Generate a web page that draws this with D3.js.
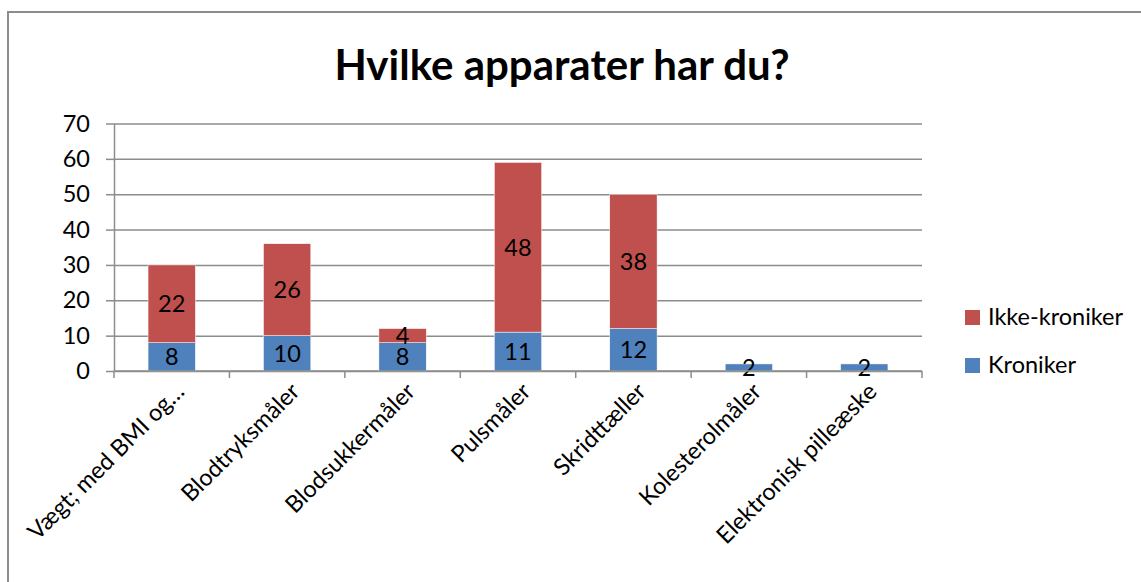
<!DOCTYPE html>
<html>
<head>
<meta charset="utf-8">
<script src="https://cdn.jsdelivr.net/npm/d3@7"></script>
<style>
  body { margin: 0; background: #fff; }
  svg { font-family: Lato, "Open Sans", sans-serif; }
</style>
</head>
<body>
<svg id="chart" width="1141" height="582"></svg>
<script>
'use strict';

// data
var categories = ["Vægt; med BMI og…", "Blodtryksmåler", "Blodsukkermåler", "Pulsmåler",
                  "Skridttæller", "Kolesterolmåler", "Elektronisk pilleæske"];
var kroniker = [8, 10, 8, 11, 12, 2, 2];
var ikkeKroniker = [22, 26, 4, 48, 38, 0, 0];
var seriesNames = ["Kroniker", "Ikke-kroniker"];
var yTicks = [0, 10, 20, 30, 40, 50, 60, 70];

var colors = {
    Kroniker: "#4F81BD",
    "Ikke-kroniker": "#C0504D",
    grid: "#8c8c8c"
};

var svg = d3.select("#chart");
var margin = {left: 114, right: 219, top: 123.5, bottom: 211};
var width = 1141 - margin.left - margin.right;
var height = 582 - margin.top - margin.bottom;
var fontSize = "23.5px";

// frame of the chart area (left + top only are visible)
svg.append("path")
   .attr("d", "M8,582 V12 H1141")
   .attr("fill", "none")
   .attr("stroke", colors.grid)
   .attr("stroke-width", 2);

svg.append("text")
   .attr("x", 562)
   .attr("y", 80)
   .attr("text-anchor", "middle")
   .style("font-size", "42px")
   .style("font-weight", "bold")
   .text("Hvilke apparater har du?");

var g = svg.append("g")
           .attr("transform", "translate(" + margin.left + "," + margin.top + ")");

var x = d3.scaleBand()
          .domain(categories)
          .range([0, width])
          .paddingInner(0.59)
          .paddingOuter(0.295);

var y = d3.scaleLinear()
          .domain([0, 70])
          .range([height, 0]);

// gridlines
g.append("g")
 .attr("class", "grid")
 .call(d3.axisRight(y).tickValues(yTicks).tickSize(width).tickFormat(""))
 .call(function(s) { s.select(".domain").remove(); })
 .selectAll("line")
 .attr("stroke", colors.grid)
 .attr("stroke-width", 1.5);

// y axis
var yAxis = g.append("g")
             .call(d3.axisLeft(y).tickValues(yTicks).tickSize(8).tickPadding(16).tickSizeOuter(0));
yAxis.select(".domain").attr("stroke", colors.grid).attr("stroke-width", 1.5);
yAxis.selectAll("line").attr("stroke", colors.grid).attr("stroke-width", 1.5);
yAxis.selectAll("text")
     .style("font-size", fontSize)
     .style("font-family", "Lato, sans-serif")
     .attr("fill", "#000");

// stacked bars
var rows = categories.map(function(c, i) {
    return {cat: c, "Kroniker": kroniker[i], "Ikke-kroniker": ikkeKroniker[i]};
});
var stacked = d3.stack().keys(seriesNames)(rows);

var layers = g.selectAll(".layer")
              .data(stacked)
              .join("g")
              .attr("class", "layer")
              .attr("fill", function(d) { return colors[d.key]; });

layers.selectAll("rect")
      .data(function(d) { return d.filter(function(p) { return p[1] > p[0]; }); })
      .join("rect")
      .attr("x", function(d) { return x(d.data.cat); })
      .attr("width", x.bandwidth())
      .attr("y", function(d) { return y(d[1]); })
      .attr("height", function(d) { return y(d[0]) - y(d[1]); })
      .attr("stroke", "#fff")
      .attr("stroke-width", 0.5);

// x axis line and ticks at the band edges
g.append("line")
 .attr("x1", 0).attr("x2", width)
 .attr("y1", height).attr("y2", height)
 .attr("stroke", colors.grid)
 .attr("stroke-width", 1.5);

var edges = d3.range(categories.length + 1).map(function(i) { return i * x.step(); });
g.selectAll(".xtick")
 .data(edges)
 .join("line")
 .attr("class", "xtick")
 .attr("x1", function(d) { return d; })
 .attr("x2", function(d) { return d; })
 .attr("y1", height)
 .attr("y2", height + 7)
 .attr("stroke", colors.grid)
 .attr("stroke-width", 1.5);

// data labels
layers.selectAll("text")
      .data(function(d) { return d.filter(function(p) { return p[1] > p[0]; }); })
      .join("text")
      .attr("x", function(d) { return x(d.data.cat) + x.bandwidth() / 2; })
      .attr("y", function(d) { return (y(d[0]) + y(d[1])) / 2; })
      .attr("dy", "0.36em")
      .attr("text-anchor", "middle")
      .attr("fill", "#000")
      .style("font-size", fontSize)
      .text(function(d) { return d[1] - d[0]; });

// rotated category labels
g.selectAll(".xlabel")
 .data(categories)
 .join("text")
 .attr("class", "xlabel")
 .attr("text-anchor", "end")
 .attr("transform", function(d) {
     var cx = x(d) + x.bandwidth() / 2 + 14;
     return "translate(" + cx + "," + (height + 22) + ") rotate(-45)";
 })
 .style("font-size", fontSize)
 .text(function(d) { return d; });

// legend
var legendItems = ["Ikke-kroniker", "Kroniker"];
var legend = svg.append("g")
                .attr("transform", "translate(965,310)");
var li = legend.selectAll("g")
               .data(legendItems)
               .join("g")
               .attr("transform", function(d, i) { return "translate(0," + (i * 48) + ")"; });
li.append("rect")
  .attr("width", 15)
  .attr("height", 15)
  .attr("fill", function(d) { return colors[d]; });
li.append("text")
  .attr("x", 23)
  .attr("y", 15)
  .style("font-size", fontSize)
  .text(function(d) { return d; });
</script>
</body>
</html>
